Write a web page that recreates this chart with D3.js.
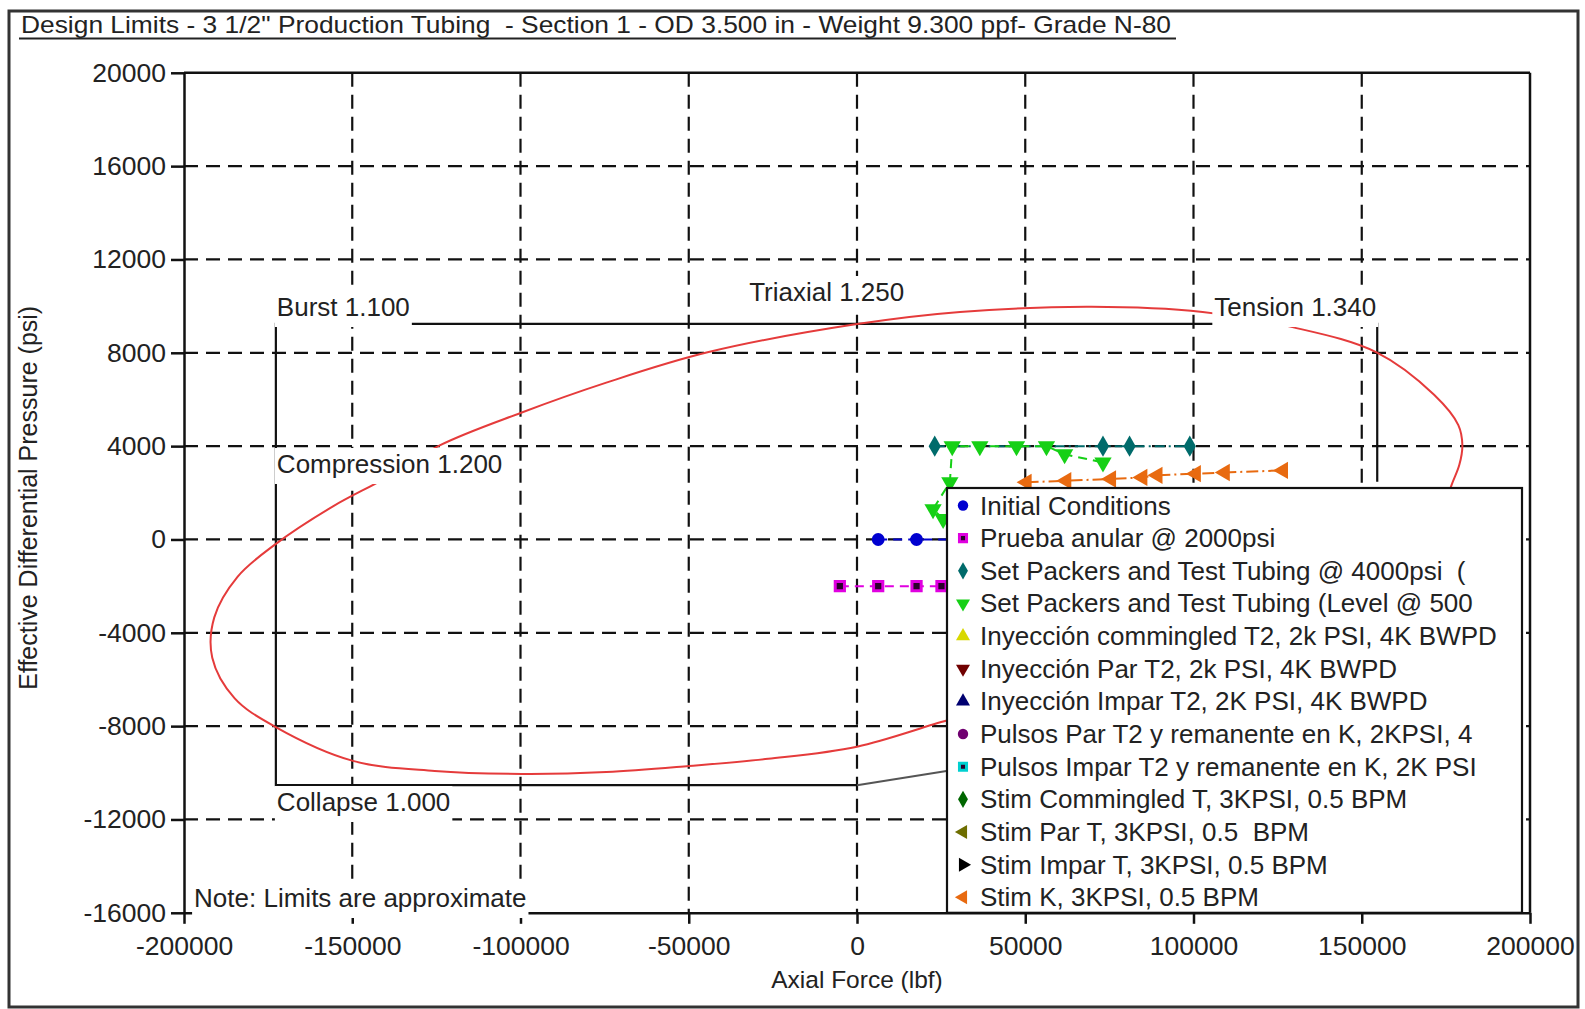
<!DOCTYPE html>
<html><head><meta charset="utf-8">
<script src="https://cdn.jsdelivr.net/npm/d3@7"></script>
<style>
body{margin:0;background:#fff}
text{font-family:"Liberation Sans",Arial,sans-serif;fill:#222;white-space:pre}
</style>
</head><body>
<svg id="c" width="1585" height="1009"></svg>
<script>
// ---------- data ----------
const titleText = 'Design Limits - 3 1/2" Production Tubing  - Section 1 - OD 3.500 in - Weight 9.300 ppf- Grade N-80';
const xTicks = [-200000,-150000,-100000,-50000,0,50000,100000,150000,200000];
const yTicks = [-16000,-12000,-8000,-4000,0,4000,8000,12000,16000,20000];
const xTitle = "Axial Force (lbf)";
const yTitle = "Effective Differential Pressure (psi)";

// design limits (psi / lbf)
const limitBurst = 9236;
const limitCollapse = -10530;
const limitTension = 154600;
const limitCompression = -172700;
const limitLabels = ["Burst 1.100","Triaxial 1.250","Tension 1.340","Compression 1.200","Collapse 1.000","Note: Limits are approximate"];

// collapse limit under tension (visible part)
const collapseTension = [[0,-10530],[28000,-9890]];

// triaxial 1.250 envelope (right-lower part hidden by legend)
const triaxial = [
  [170000,-600],[176600,2300],[179000,3200],[179900,4030],[178700,4900],[171500,6200],[154400,8020],[129400,9100],
  [102700,9750],[69700,9970],[30600,9750],[0,9230],[-44400,8020],[-74500,6720],
  [-100000,5420],[-124000,4030],[-140500,2600],[-155600,1430],[-173000,-220],
  [-184100,-1600],[-191000,-3340],[-191600,-5070],[-185000,-6800],[-173000,-8020],
  [-149800,-9490],[-125500,-9920],[-99700,-10050],[-74500,-9970],[-49900,-9710],
  [-26400,-9400],[0,-8880],[26700,-7760],[40000,-7300]
];

const seriesNames = [
  "Initial Conditions",
  "Prueba anular @ 2000psi",
  "Set Packers and Test Tubing @ 4000psi  (",
  "Set Packers and Test Tubing (Level @ 500",
  "Inyección commingled T2, 2k PSI, 4K BWPD",
  "Inyección Par T2, 2k PSI, 4K BWPD",
  "Inyección Impar T2, 2K PSI, 4K BWPD",
  "Pulsos Par T2 y remanente en K, 2KPSI, 4",
  "Pulsos Impar T2 y remanente en K, 2K PSI",
  "Stim Commingled T, 3KPSI, 0.5 BPM",
  "Stim Par T, 3KPSI, 0.5  BPM",
  "Stim Impar T, 3KPSI, 0.5 BPM",
  "Stim K, 3KPSI, 0.5 BPM"
];
const seriesColors = ["#0000d0","#e000e0","#006b6b","#16d016","#d8d800","#700000","#000070","#700070","#00d0d0","#006600","#6e6e00","#000000","#e86a10"];
const seriesSymbols = ["circle","square","diamond","down","up","down","up","circle","square","diamond","left","right","left"];
const seriesDash = ["9,6","9,6","10,4,2,4","9,6","9,6","9,6","9,6","9,6","9,6","9,6","9,6","9,6","12,4,2,4"];

const initialConditions = [[6300,0],[17700,0],[29000,0]];
const pruebaAnular = [[-5100,-2000],[6300,-2000],[17700,-2000],[25100,-2000]];
const setPackers4000 = [[23100,4000],[73100,4000],[81000,4000],[98900,4000]];
const setPackersLevel = [[25600,880],[22600,1300],[27600,2450],[28300,4000],[36500,4000],[47400,4000],[56300,4000],[61700,3650],[73100,3300]];
const inyCommingled = [];
const inyPar = [];
const inyImpar = [];
const pulsosPar = [];
const pulsosImpar = [];
const stimCommingled = [];
const stimPar = [];
const stimImpar = [];
const stimK = [[50400,2450],[62200,2520],[75500,2590],[84800,2660],[89300,2750],[100700,2820],[109300,2870],[126600,2960]];
const seriesData = [initialConditions,pruebaAnular,setPackers4000,setPackersLevel,inyCommingled,inyPar,inyImpar,pulsosPar,pulsosImpar,stimCommingled,stimPar,stimImpar,stimK];

// ---------- drawing ----------
const svg = d3.select("#c");
const P = {l:184, r:1530, t:72.8, b:912.8};
const x = d3.scaleLinear([-200000,200000],[P.l,P.r]);
const y = d3.scaleLinear([-16000,20000],[P.b,P.t]);

// outer frame
svg.append("rect").attr("x",9).attr("y",11).attr("width",1569).attr("height",996)
  .attr("fill","none").attr("stroke","#333").attr("stroke-width",3);

// title
svg.append("text").attr("x",21).attr("y",33).attr("font-size",24)
  .attr("textLength",1150).attr("lengthAdjust","spacingAndGlyphs").text(titleText);
svg.append("line").attr("x1",19).attr("x2",1176).attr("y1",38.5).attr("y2",38.5)
  .attr("stroke","#222").attr("stroke-width",2);

const grid = svg.append("g").attr("stroke","#111").attr("stroke-width",2.2).attr("stroke-dasharray","14,8");
yTicks.filter(v=>v>-16000 && v<20000).forEach(v=>{
  grid.append("line").attr("x1",P.l).attr("x2",P.r).attr("y1",y(v)).attr("y2",y(v));
});
xTicks.filter(v=>v>-200000 && v<200000).forEach(v=>{
  grid.append("line").attr("y1",P.t).attr("y2",P.b).attr("x1",x(v)).attr("x2",x(v));
});

// axes
const fmt = d => String(d);
const gy = svg.append("g").attr("transform",`translate(${P.l},0)`)
  .call(d3.axisLeft(y).tickValues(yTicks).tickFormat(fmt).tickSize(13).tickSizeOuter(0).tickPadding(5));
const gx = svg.append("g").attr("transform",`translate(0,${P.b})`)
  .call(d3.axisBottom(x).tickValues(xTicks).tickFormat(fmt).tickSize(11).tickSizeOuter(0).tickPadding(6));
[gx,gy].forEach(g=>{
  g.selectAll("path,line").attr("stroke","#111").attr("stroke-width",2.5);
  g.selectAll("text").attr("font-size",26.5).attr("fill","#222").attr("font-family",'"Liberation Sans",Arial,sans-serif');
});
gx.selectAll("text").attr("dy","0.95em");
// top / right frame
svg.append("line").attr("x1",P.l).attr("x2",P.r).attr("y1",P.t).attr("y2",P.t).attr("stroke","#111").attr("stroke-width",2.5);
svg.append("line").attr("x1",P.r).attr("x2",P.r).attr("y1",P.t).attr("y2",P.b).attr("stroke","#111").attr("stroke-width",2.5);

// axis titles
svg.append("text").attr("x",x(0)).attr("y",988).attr("text-anchor","middle").attr("font-size",24.5).attr("fill","#333").text(xTitle);
svg.append("text").attr("transform",`translate(37,${(P.t+P.b)/2+5}) rotate(-90)`).attr("text-anchor","middle")
  .attr("font-size",25).attr("fill","#555").text(yTitle);

// limit envelope
const lim = svg.append("g").attr("stroke","#111").attr("stroke-width",2.2).attr("fill","none");
lim.append("path").attr("d",d3.line()([
  [x(limitTension),y(limitCollapse+13000)],[x(limitTension),y(limitBurst)],
  [x(limitCompression),y(limitBurst)],[x(limitCompression),y(limitCollapse)],[x(0),y(limitCollapse)]
]));
svg.append("path").attr("d",d3.line()(collapseTension.map(d=>[x(d[0]),y(d[1])])))
  .attr("stroke","#555").attr("stroke-width",2).attr("fill","none");

// triaxial curve
svg.append("path").attr("d",d3.line().curve(d3.curveCatmullRom)(triaxial.map(d=>[x(d[0]),y(d[1])])))
  .attr("stroke","#e53b3b").attr("stroke-width",2).attr("fill","none");

// labels with white background
function bgLabel(txt, px, py, anchor){
  const g = svg.append("g");
  const t = g.append("text").attr("x",px).attr("y",py).attr("font-size",26).attr("text-anchor",anchor).attr("fill","#2a2a2a").text(txt);
  const b = t.node().getBBox();
  g.insert("rect","text").attr("x",b.x-2).attr("y",b.y-1).attr("width",b.width+4).attr("height",b.height+6).attr("fill","#fff");
}
bgLabel(limitLabels[0], x(limitCompression)+1, 316, "start");
bgLabel(limitLabels[1], x(-9000), 301, "middle");
bgLabel(limitLabels[2], x(limitTension)-1, 316, "end");
bgLabel(limitLabels[3], x(limitCompression)+1, 473, "start");
bgLabel(limitLabels[4], x(limitCompression)+1, 811, "start");
bgLabel(limitLabels[5], x(-197000), 907, "start");

// symbols
function symPath(s, size){
  const map = {circle:d3.symbolCircle, square:d3.symbolSquare, diamond:d3.symbolDiamond,
               up:d3.symbolTriangle, down:d3.symbolTriangle, left:d3.symbolTriangle, right:d3.symbolTriangle};
  return d3.symbol().type(map[s]).size(size)();
}
const rot = {down:180,left:-90,right:90};
function drawSym(g, s, color, cx, cy, size){
  const p = g.append("path").attr("d",symPath(s,size))
    .attr("transform",`translate(${cx},${cy}) rotate(${rot[s]||0})`);
  if(s==="square"){ p.attr("fill","#2a002a").attr("stroke",color).attr("stroke-width",3); }
  else p.attr("fill",color);
}

// series
seriesData.forEach((data,i)=>{
  if(!data.length) return;
  svg.append("path").attr("d",d3.line()(data.map(d=>[x(d[0]),y(d[1])])))
    .attr("stroke",seriesColors[i]).attr("stroke-width",2).attr("stroke-dasharray",seriesDash[i]).attr("fill","none");
  const g = svg.append("g");
  data.forEach(d=>drawSym(g, seriesSymbols[i], seriesColors[i], x(d[0]), y(d[1]), seriesSymbols[i]==="square"?85:130));
});

// legend
const L = {x:947, y:488, w:575, h:P.b-488};
svg.append("rect").attr("x",L.x).attr("y",L.y).attr("width",L.w).attr("height",L.h)
  .attr("fill","#fff").attr("stroke","#111").attr("stroke-width",2.2);
seriesNames.forEach((n,i)=>{
  const cy = 505.5 + i*32.65;
  const g = svg.append("g");
  drawSym(g, seriesSymbols[i], seriesColors[i], 963, cy, seriesSymbols[i]==="square"?50:85);
  g.append("text").attr("x",980).attr("y",cy+9).attr("font-size",26).attr("fill","#2a2a2a").text(n);
});
</script>
</body></html>
